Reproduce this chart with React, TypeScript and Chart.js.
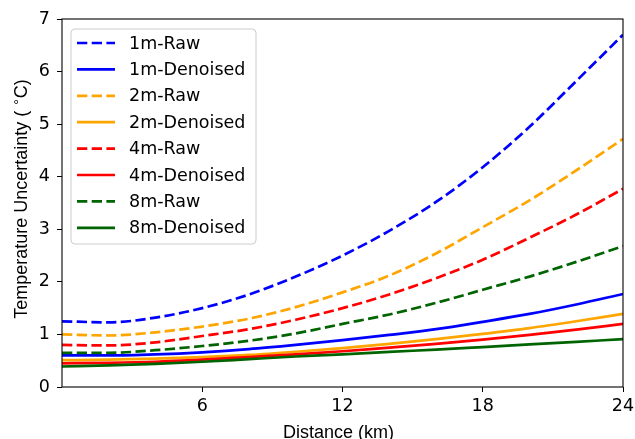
import React, { useEffect, useRef } from "react";
import { Chart, registerables } from "chart.js";

Chart.register(...registerables);

const distanceKm = [0, 2, 4, 6, 8, 10, 12, 14, 16, 18, 20, 22, 24];
const xTicks = [6, 12, 18, 24];

const raw1m = [1.25, 1.23, 1.32, 1.5, 1.76, 2.1, 2.5, 2.97, 3.52, 4.18, 4.95, 5.82, 6.7];
const den1m = [0.6, 0.6, 0.62, 0.66, 0.72, 0.8, 0.89, 0.99, 1.1, 1.24, 1.39, 1.57, 1.77];
const raw2m = [1.0, 0.98, 1.04, 1.15, 1.3, 1.52, 1.8, 2.12, 2.54, 3.04, 3.55, 4.12, 4.72];
const den2m = [0.51, 0.52, 0.54, 0.57, 0.61, 0.67, 0.74, 0.82, 0.91, 1.01, 1.12, 1.25, 1.39];
const raw4m = [0.8, 0.79, 0.85, 0.97, 1.1, 1.28, 1.5, 1.76, 2.07, 2.42, 2.84, 3.28, 3.77];
const den4m = [0.45, 0.46, 0.48, 0.52, 0.57, 0.62, 0.68, 0.75, 0.82, 0.9, 0.99, 1.09, 1.2];
const raw8m = [0.65, 0.65, 0.7, 0.78, 0.88, 1.02, 1.2, 1.38, 1.6, 1.85, 2.1, 2.38, 2.68];
const den8m = [0.39, 0.41, 0.44, 0.48, 0.53, 0.58, 0.62, 0.67, 0.71, 0.76, 0.81, 0.86, 0.91];

const seriesLabels = [
  "1m-Raw", "1m-Denoised", "2m-Raw", "2m-Denoised",
  "4m-Raw", "4m-Denoised", "8m-Raw", "8m-Denoised",
];
const seriesValues = [raw1m, den1m, raw2m, den2m, raw4m, den4m, raw8m, den8m];
const seriesColors = [
  "#0000ff", "#0000ff", "#ffa500", "#ffa500",
  "#ff0000", "#ff0000", "#006400", "#006400",
];
const seriesDashed = [true, false, true, false, true, false, true, false];

const DASH = [10.3, 4.4];
const LW = 2.7;
const TICK_FONT = 17.5;
const TITLE_FONT = 18;

export default function App() {
  const ref = useRef<HTMLCanvasElement | null>(null);

  useEffect(() => {
    const canvas = ref.current;
    if (!canvas) return;

    const overlay = {
      id: "mplOverlay",
      afterDatasetsDraw(chart: any) {
        const ctx = chart.ctx;
        const a = chart.chartArea;
        ctx.save();
        // frame
        ctx.strokeStyle = "#000";
        ctx.lineWidth = 1.1;
        ctx.strokeRect(a.left, a.top, a.right - a.left, a.bottom - a.top);

        // legend
        const bx = 71, by = 29, bw = 185, bh = 215, r = 4;
        ctx.beginPath();
        ctx.moveTo(bx + r, by);
        ctx.lineTo(bx + bw - r, by);
        ctx.quadraticCurveTo(bx + bw, by, bx + bw, by + r);
        ctx.lineTo(bx + bw, by + bh - r);
        ctx.quadraticCurveTo(bx + bw, by + bh, bx + bw - r, by + bh);
        ctx.lineTo(bx + r, by + bh);
        ctx.quadraticCurveTo(bx, by + bh, bx, by + bh - r);
        ctx.lineTo(bx, by + r);
        ctx.quadraticCurveTo(bx, by, bx + r, by);
        ctx.closePath();
        ctx.fillStyle = "rgba(255,255,255,0.8)";
        ctx.fill();
        ctx.strokeStyle = "#cccccc";
        ctx.lineWidth = 1;
        ctx.stroke();

        ctx.font = `${TICK_FONT}px "DejaVu Sans"`;
        ctx.textBaseline = "middle";
        ctx.textAlign = "left";
        seriesLabels.forEach((lab, i) => {
          const y = 43 + i * 26.4;
          ctx.beginPath();
          ctx.setLineDash(seriesDashed[i] ? DASH : []);
          ctx.strokeStyle = seriesColors[i];
          ctx.lineWidth = LW;
          ctx.moveTo(77, y);
          ctx.lineTo(115, y);
          ctx.stroke();
          ctx.setLineDash([]);
          ctx.fillStyle = "#000";
          ctx.fillText(lab, 129, y + 1);
        });

        // axis titles
        ctx.fillStyle = "#000";
        ctx.font = `${TITLE_FONT}px "Liberation Sans"`;
        ctx.textAlign = "center";
        ctx.textBaseline = "alphabetic";
        ctx.fillText("Distance (km)", (a.left + a.right) / 2 - 4, 438);

        ctx.save();
        ctx.translate(27, (a.top + a.bottom) / 2 - 4);
        ctx.rotate(-Math.PI / 2);
        const p1 = "Temperature Uncertainty ( ";
        const p2 = "\u2218";
        const p3 = "C)";
        ctx.font = `${TITLE_FONT}px "Liberation Sans"`;
        const w1 = ctx.measureText(p1).width;
        const w3 = ctx.measureText(p3).width;
        ctx.font = '12px "DejaVu Sans"';
        const w2 = ctx.measureText(p2).width;
        const total = w1 + w2 + w3;
        let x = -total / 2;
        ctx.textAlign = "left";
        ctx.font = `${TITLE_FONT}px "Liberation Sans"`;
        ctx.fillText(p1, x, 0);
        x += w1;
        ctx.font = '12px "DejaVu Sans"';
        ctx.fillText(p2, x, -7);
        x += w2;
        ctx.font = `${TITLE_FONT}px "Liberation Sans"`;
        ctx.fillText(p3, x, 0);
        ctx.restore();

        ctx.restore();
      },
    };

    const datasets = seriesLabels.map((lab, i) => ({
      label: lab,
      data: distanceKm.map((d, j) => ({ x: d, y: seriesValues[i][j] })),
      borderColor: seriesColors[i],
      backgroundColor: seriesColors[i],
      borderWidth: LW,
      borderDash: seriesDashed[i] ? DASH : [],
      pointRadius: 0,
      fill: false,
      cubicInterpolationMode: "monotone" as const,
      order: seriesLabels.length - i,
    }));

    const chart = new Chart(canvas, {
      type: "line",
      data: { datasets },
      options: {
        responsive: false,
        animation: false,
        maintainAspectRatio: false,
        layout: { padding: { top: 19, right: 12, left: 0, bottom: 0 } },
        plugins: {
          legend: { display: false },
          tooltip: { enabled: false },
        },
        scales: {
          x: {
            type: "linear",
            min: 0,
            max: 24,
            afterBuildTicks: (scale: any) => {
              scale.ticks = xTicks.map((v) => ({ value: v }));
            },
            afterFit: (scale: any) => {
              scale.height = 52;
              scale.paddingLeft = 0;
              scale.paddingRight = 0;
            },
            grid: {
              display: true,
              drawOnChartArea: false,
              drawTicks: true,
              tickLength: 5,
              color: "#000",
              lineWidth: 1,
            },
            border: { display: false },
            ticks: {
              color: "#000",
              font: { family: "DejaVu Sans", size: TICK_FONT },
              padding: 4,
              maxRotation: 0,
              autoSkip: false,
            },
          },
          y: {
            type: "linear",
            min: 0,
            max: 7,
            afterFit: (scale: any) => {
              scale.width = 62;
              scale.paddingTop = 0;
              scale.paddingBottom = 0;
            },
            grid: {
              display: true,
              drawOnChartArea: false,
              drawTicks: true,
              tickLength: 5,
              color: "#000",
              lineWidth: 1,
            },
            border: { display: false },
            ticks: {
              stepSize: 1,
              color: "#000",
              font: { family: "DejaVu Sans", size: TICK_FONT },
              padding: 7,
            },
          },
        },
      },
      plugins: [overlay],
    });

    return () => chart.destroy();
  }, []);

  return (
    <div style={{ position: "fixed", left: 0, top: 0, width: 635, height: 439, background: "#fff" }}>
      <canvas ref={ref} width={635} height={439} style={{ display: "block" }} />
    </div>
  );
}
